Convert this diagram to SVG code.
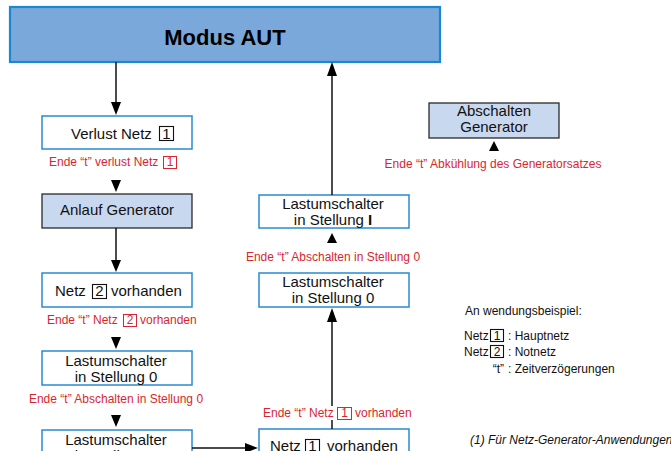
<svg xmlns="http://www.w3.org/2000/svg" width="671" height="451" viewBox="0 0 671 451">
<style>
.t{font-family:"Liberation Sans",Arial,sans-serif;font-size:15px;fill:#111}
.r{font-family:"Liberation Sans",Arial,sans-serif;font-size:12px;fill:#D8262F}
.l{font-family:"Liberation Sans",Arial,sans-serif;font-size:12px;fill:#111}
.wb{fill:#fff;stroke:#2A8AD0;stroke-width:1.5}
.gb{fill:#C8D8EE;stroke:#2a2a2a;stroke-width:1.3}
.db{fill:none;stroke:#111;stroke-width:1.1}
.rb{fill:none;stroke:#D8262F;stroke-width:1}
.ln{stroke:#111;stroke-width:1.5;fill:none}
.ah{fill:#000}
</style>
<rect width="671" height="451" fill="#fff"/>

<g id="modus">
<rect x="10" y="7" width="430" height="55" fill="#7BA8DB" stroke="#1A88D0" stroke-width="2.2"/>
<text x="225" y="45" text-anchor="middle" font-family="Liberation Sans,Arial,sans-serif" font-size="22" font-weight="bold" fill="#000">Modus AUT</text>
</g>

<g id="verlust">
<rect class="wb" x="42" y="116" width="150" height="33"/>
<text class="t" x="71" y="139">Verlust Netz</text>
<rect class="db" x="159.5" y="126.5" width="14" height="14"/>
<text class="t" x="166.5" y="139" text-anchor="middle">1</text>
</g>
<g id="lbl-verlust">
<text class="r" x="49" y="166">Ende “t” verlust Netz</text>
<rect class="rb" x="163.5" y="156.5" width="13" height="12"/>
<text class="r" x="170" y="166" text-anchor="middle">1</text>
</g>

<g id="anlauf">
<rect class="gb" x="42" y="194" width="150" height="34"/>
<text class="t" x="117" y="215" text-anchor="middle">Anlauf Generator</text>
</g>

<g id="netz2">
<rect class="wb" x="42" y="273" width="150" height="34"/>
<text class="t" x="55" y="296">Netz</text>
<rect class="db" x="92.5" y="284.5" width="14" height="14"/>
<text class="t" x="99.5" y="296" text-anchor="middle">2</text>
<text class="t" x="111" y="296">vorhanden</text>
</g>
<g id="lbl-netz2">
<text class="r" x="47" y="324">Ende “t” Netz</text>
<rect class="rb" x="123.5" y="314.5" width="13" height="12"/>
<text class="r" x="130" y="324" text-anchor="middle">2</text>
<text class="r" x="140" y="324">vorhanden</text>
</g>

<g id="stell0-left">
<rect class="wb" x="42" y="351" width="150" height="34"/>
<text class="t" x="116" y="366" text-anchor="middle">Lastumschalter</text>
<text class="t" x="116" y="382" text-anchor="middle">in Stellung 0</text>
</g>
<text class="r" x="116" y="403" text-anchor="middle">Ende “t” Abschalten in Stellung 0</text>

<g id="stell2-left">
<rect class="wb" x="42" y="430" width="150" height="40"/>
<text class="t" x="116" y="445" text-anchor="middle">Lastumschalter</text>
<text class="t" x="116" y="461" text-anchor="middle">in Stellung II</text>
</g>

<g id="netz1">
<rect class="wb" x="259" y="429" width="150" height="40"/>
<text class="t" x="270" y="451">Netz</text>
<rect class="db" x="305.5" y="439.5" width="14" height="14"/>
<text class="t" x="312.5" y="451" text-anchor="middle">1</text>
<text class="t" x="327" y="451">vorhanden</text>
</g>
<g id="lbl-netz1">
<text class="r" x="263" y="417">Ende “t” Netz</text>
<rect class="rb" x="337.5" y="407.5" width="14" height="12"/>
<text class="r" x="344.5" y="417" text-anchor="middle">1</text>
<text class="r" x="355" y="417">vorhanden</text>
</g>

<g id="stell0-right">
<rect class="wb" x="259" y="273" width="150" height="34"/>
<text class="t" x="333" y="287" text-anchor="middle">Lastumschalter</text>
<text class="t" x="333" y="303" text-anchor="middle">in Stellung 0</text>
</g>
<text class="r" x="333" y="261" text-anchor="middle">Ende “t” Abschalten in Stellung 0</text>

<g id="stell1-right">
<rect class="wb" x="259" y="195" width="150" height="33"/>
<text class="t" x="333" y="209" text-anchor="middle">Lastumschalter</text>
<text class="t" x="333" y="225" text-anchor="middle">in Stellung <tspan font-weight="bold">I</tspan></text>
</g>

<g id="abschalten">
<rect class="gb" x="429" y="103" width="130" height="35"/>
<text class="t" x="494" y="116" text-anchor="middle">Abschalten</text>
<text class="t" x="494" y="132" text-anchor="middle">Generator</text>
</g>
<text class="r" x="493" y="168" text-anchor="middle">Ende “t” Abkühlung des Generatorsatzes</text>

<g id="legend">
<text class="l" x="465" y="315">An wendungsbeispiel:</text>
<text class="l" x="464" y="340">Netz</text>
<rect class="db" x="490.5" y="329.5" width="13" height="12"/>
<text class="l" x="497" y="339.5" text-anchor="middle">1</text>
<text class="l" x="508" y="340">: Hauptnetz</text>
<text class="l" x="464" y="356">Netz</text>
<rect class="db" x="490.5" y="345.5" width="13" height="12"/>
<text class="l" x="497" y="355.5" text-anchor="middle">2</text>
<text class="l" x="508" y="356">: Notnetz</text>
<text class="l" x="504" y="373" text-anchor="end">“t”</text>
<text class="l" x="508" y="373">: Zeitverzögerungen</text>
<text class="l" x="470" y="444" font-style="italic" font-size="11.7">(1) Für Netz-Generator-Anwendungen.</text>
</g>

<g id="connectors">
<line class="ln" x1="116" y1="62" x2="116" y2="103"/>
<polygon class="ah" points="111,102 121,102 116,115"/>
<polygon class="ah" points="111,180 121,180 116,192"/>
<line class="ln" x1="116" y1="228" x2="116" y2="261"/>
<polygon class="ah" points="111,260 121,260 116,272"/>
<polygon class="ah" points="111,337 121,337 116,349"/>
<polygon class="ah" points="111,415 121,415 116,427"/>
<line class="ln" x1="192" y1="448" x2="246" y2="448"/>
<polygon class="ah" points="245,443 245,453 258,448"/>
<line class="ln" x1="332" y1="429" x2="332" y2="420"/>
<line class="ln" x1="332" y1="406" x2="332" y2="321"/>
<polygon class="ah" points="327,322 337,322 332,308"/>
<polygon class="ah" points="327,243 337,243 332,233"/>
<line class="ln" x1="332" y1="195" x2="332" y2="75"/>
<polygon class="ah" points="327,76 337,76 332,62"/>
<polygon class="ah" points="489,151 499,151 494,141"/>
</g>
</svg>
